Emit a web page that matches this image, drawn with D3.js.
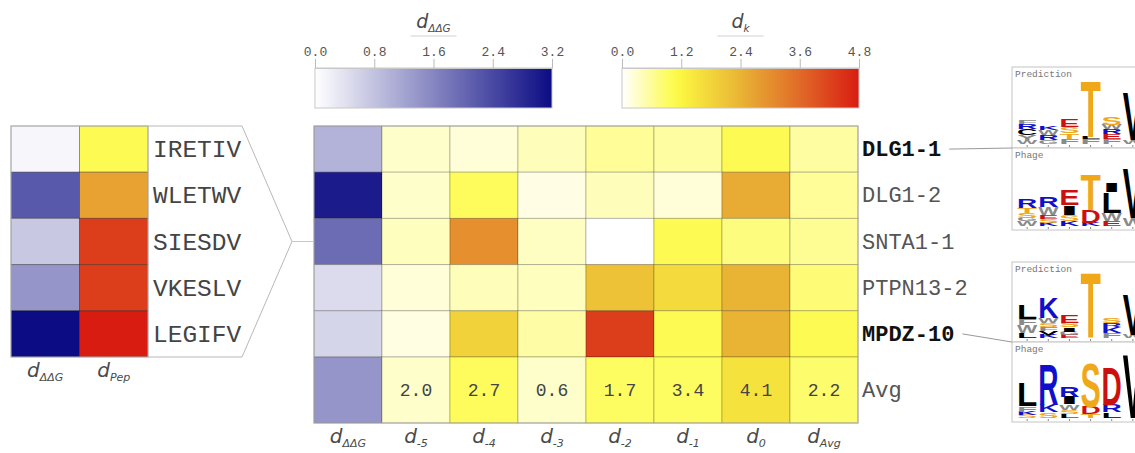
<!DOCTYPE html>
<html>
<head>
<meta charset="utf-8">
<script src="https://cdn.jsdelivr.net/npm/d3@7"></script>
<style>
  body { margin: 0; background: #fff; }
  svg { display: block; }
  .dlab { font-family: "DejaVu Sans", sans-serif; font-style: italic; fill: #4a4a4a; }
</style>
</head>
<body>
<svg id="chart" width="1135" height="453"></svg>
<script>
// ---- data ----
var rowNames = ['DLG1-1', 'DLG1-2', 'SNTA1-1', 'PTPN13-2', 'MPDZ-10'];
var boldRows = ['DLG1-1', 'MPDZ-10'];
var colKeys = ['ΔΔG', '-5', '-4', '-3', '-2', '-1', '0', 'Avg'];
var ddgMain = [1.0, 3.0, 1.93, 0.48, 0.55];
var ddgAvg = 1.4;
var dkMain = [
  [0.30, 0.22, 0.40, 0.60, 0.55, 1.00, 0.55],
  [0.30, 0.95, 0.15, 0.40, 0.22, 2.55, 0.60],
  [0.38, 3.00, 0.35, 0.00, 1.00, 0.75, 0.62],
  [0.22, 0.40, 0.38, 2.15, 1.70, 2.40, 0.80],
  [0.17, 1.85, 0.52, 4.30, 1.00, 2.40, 1.00]
];
var dkAvgShade = [0.30, 0.95, 0.30, 0.92, 0.92, 1.55, 0.85];
var avgLabels = ['2.0', '2.7', '0.6', '1.7', '3.4', '4.1', '2.2'];

var peptides = ['IRETIV', 'WLETWV', 'SIESDV', 'VKESLV', 'LEGIFV'];
var pepDdg = [0.1, 2.18, 0.73, 1.4, 3.2];
var pepDpep = [1.0, 2.7, 4.3, 4.3, 4.8];

var ddgTicks = [0, 0.8, 1.6, 2.4, 3.2];
var dkTicks = [0, 1.2, 2.4, 3.6, 4.8];

// sequence logos: stacks bottom -> top, [letter, bits]
var logoDLG1Pred = [
  [['W', 0.25], ['Y', 0.3], ['C', 0.4], ['R', 0.3], ['F', 0.25]],
  [['G', 0.25], ['R', 0.3], ['W', 0.3], ['K', 0.2]],
  [['F', 0.3], ['T', 0.35], ['S', 0.4], ['E', 0.5]],
  [['F', 0.3], ['L', 0.15], ['T', 3.5]],
  [['F', 0.3], ['E', 0.3], ['R', 0.3], ['W', 0.3], ['S', 0.45]],
  [['W', 0.25], ['V', 3.0]]
];
var logoDLG1Phage = [
  [['W', 0.3], ['G', 0.2], ['S', 0.3], ['T', 0.3], ['R', 0.6]],
  [['K', 0.2], ['S', 0.25], ['E', 0.2], ['W', 0.5], ['R', 0.65]],
  [['K', 0.3], ['S', 0.4], ['I', 0.6], ['E', 1.0]],
  [['K', 0.2], ['D', 0.8], ['T', 2.2]],
  [['E', 0.3], ['W', 0.5], ['L', 1.3], ['I', 0.6]],
  [['W', 0.5], ['V', 3.1]]
];
var logoMPDZPred = [
  [['L', 0.3], ['W', 0.5], ['F', 0.4], ['L', 0.9]],
  [['K', 0.2], ['V', 0.25], ['F', 0.25], ['S', 0.25], ['W', 0.3], ['K', 1.3]],
  [['E', 0.2], ['G', 0.2], ['I', 0.25], ['S', 0.3], ['E', 0.5]],
  [['T', 4.1]],
  [['F', 0.3], ['K', 0.4], ['R', 0.25], ['S', 0.35]],
  [['W', 0.2], ['V', 2.5]]
];
var logoMPDZPhage = [
  [['S', 0.2], ['K', 0.2], ['F', 0.35], ['L', 1.5]],
  [['S', 0.35], ['K', 0.45], ['R', 2.5]],
  [['L', 0.25], ['S', 0.25], ['W', 0.35], ['I', 0.45], ['R', 0.65]],
  [['T', 0.25], ['D', 0.45], ['S', 2.75]],
  [['L', 0.35], ['R', 0.45], ['D', 2.4]],
  [['V', 4.0]]
];

// ---- scales ----
var ddgColor = d3.scaleLinear().domain([0, 3.2]).range(['#ffffff', '#0c0c84']).clamp(true);
var dkColor = d3.scaleLinear()
    .domain([0, 1.1, 2.4, 3.6, 4.8])
    .range(['#ffffff', '#fdfb42', '#e9b434', '#e06a28', '#d91c12'])
    .clamp(true);

var svg = d3.select('#chart');
var defs = svg.append('defs');

var monoFont = '"Liberation Mono", monospace';

function dLabel(sel, sub, size) {
  sel.append('tspan').text('d').style('font-size', size + 'px');
  sel.append('tspan').text(sub).attr('dy', size * 0.22).style('font-size', (size * 0.55) + 'px');
}

//
// colour bars
//
function colorBar(id, scale, ticks, x0, x1, sub) {
  var x = d3.scaleLinear().domain([ticks[0], ticks[ticks.length - 1]]).range([x0, x1]);
  var grad = defs.append('linearGradient').attr('id', id);
  d3.range(0, 1.0001, 0.05).forEach(function(t) {
    grad.append('stop')
        .attr('offset', (t * 100) + '%')
        .attr('stop-color', scale(x.invert(x0 + t * (x1 - x0))));
  });

  svg.append('rect')
      .attr('x', x0).attr('y', 68)
      .attr('width', x1 - x0).attr('height', 40)
      .attr('fill', 'url(#' + id + ')')
      .attr('stroke', '#c8c8c8');

  var ax = svg.append('g')
      .attr('transform', 'translate(0,68)')
      .call(d3.axisTop(x).tickValues(ticks).tickSize(9).tickSizeOuter(0).tickPadding(3)
                .tickFormat(d3.format('.1f')));
  ax.select('.domain').attr('stroke', '#c8c8c8');
  ax.selectAll('.tick line').attr('stroke', '#bbb');
  ax.selectAll('.tick text')
      .style('font-family', monoFont).style('font-size', '13px').attr('fill', '#555');

  var cx = (x0 + x1) / 2;
  svg.append('line')
      .attr('x1', cx - 23).attr('x2', cx + 23)
      .attr('y1', 36).attr('y2', 36)
      .attr('stroke', '#d0d0d0');
  svg.append('text')
      .attr('class', 'dlab')
      .attr('x', cx).attr('y', 28)
      .attr('text-anchor', 'middle')
      .call(dLabel, sub, 19);
}

colorBar('ddgGrad', ddgColor, ddgTicks, 315, 552, 'ΔΔG');
colorBar('dkGrad', dkColor, dkTicks, 622, 859, 'k');

//
// main heatmap
//
var x = d3.scaleBand().domain(colKeys).range([314, 858]);
var y = d3.scaleBand().domain(rowNames).range([126, 357]);
var avgTop = 357, avgBottom = 423;

var cells = [];
rowNames.forEach(function(r, i) {
  cells.push({col: colKeys[0], row: r, fill: ddgColor(ddgMain[i])});
  dkMain[i].forEach(function(v, j) {
    cells.push({col: colKeys[j + 1], row: r, fill: dkColor(v)});
  });
});

var main = svg.append('g');
main.selectAll('.cell')
    .data(cells)
    .enter()
    .append('rect')
    .attr('class', 'cell')
    .attr('x', function(d) { return x(d.col); })
    .attr('y', function(d) { return y(d.row); })
    .attr('width', x.bandwidth())
    .attr('height', y.bandwidth())
    .attr('fill', function(d) { return d.fill; })
    .attr('stroke', 'rgba(0,0,0,0.22)');

var avgCells = [{col: colKeys[0], fill: ddgColor(ddgAvg), label: ''}].concat(
    dkAvgShade.map(function(v, j) {
      return {col: colKeys[j + 1], fill: dkColor(v), label: avgLabels[j]};
    }));

main.selectAll('.avg')
    .data(avgCells)
    .enter()
    .append('rect')
    .attr('class', 'avg')
    .attr('x', function(d) { return x(d.col); })
    .attr('y', avgTop)
    .attr('width', x.bandwidth())
    .attr('height', avgBottom - avgTop)
    .attr('fill', function(d) { return d.fill; })
    .attr('stroke', 'rgba(0,0,0,0.22)');

main.selectAll('.avglabel')
    .data(avgCells.filter(function(d) { return d.label; }))
    .enter()
    .append('text')
    .attr('class', 'avglabel')
    .attr('x', function(d) { return x(d.col) + x.bandwidth() / 2; })
    .attr('y', 396)
    .attr('text-anchor', 'middle')
    .style('font-family', monoFont).style('font-size', '18px')
    .attr('fill', '#444')
    .text(function(d) { return d.label; });

main.append('rect')
    .attr('x', 314).attr('y', 126)
    .attr('width', 544).attr('height', avgBottom - 126)
    .attr('fill', 'none')
    .attr('stroke', '#a8a8a8');

// row labels
var rowLabels = main.selectAll('.rowlabel')
    .data(rowNames)
    .enter()
    .append('text')
    .attr('class', 'rowlabel')
    .attr('x', 862)
    .attr('y', function(d) { return y(d) + y.bandwidth() / 2 + 7; })
    .style('font-family', monoFont).style('font-size', '22px')
    .style('font-weight', function(d) { return boldRows.indexOf(d) >= 0 ? 'bold' : 'normal'; })
    .attr('fill', function(d) { return boldRows.indexOf(d) >= 0 ? '#111' : '#555'; })
    .text(function(d) { return d; });

main.append('text')
    .attr('x', 862).attr('y', 397)
    .style('font-family', monoFont).style('font-size', '22px')
    .attr('fill', '#555')
    .text('Avg');

// column labels
main.selectAll('.collabel')
    .data(colKeys)
    .enter()
    .append('text')
    .attr('class', 'dlab collabel')
    .attr('x', function(d) { return x(d) + x.bandwidth() / 2; })
    .attr('y', 443)
    .attr('text-anchor', 'middle')
    .each(function(d) { d3.select(this).call(dLabel, d, 20); });

//
// left panel: peptides
//
var lx = d3.scaleBand().domain(['ddg', 'pep']).range([11, 148]);
var left = svg.append('g');

var leftCells = [];
peptides.forEach(function(p, i) {
  leftCells.push({col: 'ddg', row: rowNames[i], fill: ddgColor(pepDdg[i])});
  leftCells.push({col: 'pep', row: rowNames[i], fill: dkColor(pepDpep[i])});
});

left.selectAll('.lcell')
    .data(leftCells)
    .enter()
    .append('rect')
    .attr('class', 'lcell')
    .attr('x', function(d) { return lx(d.col); })
    .attr('y', function(d) { return y(d.row); })
    .attr('width', lx.bandwidth())
    .attr('height', y.bandwidth())
    .attr('fill', function(d) { return d.fill; })
    .attr('stroke', 'rgba(0,0,0,0.3)');

var tipX = 292, tipY = (126 + 357) / 2;
left.append('path')
    .attr('d', 'M148,126H242L' + tipX + ',' + tipY + 'L242,357H148')
    .attr('fill', 'none')
    .attr('stroke', '#b8b8b8');
left.append('line')
    .attr('x1', tipX).attr('x2', 314)
    .attr('y1', tipY).attr('y2', tipY)
    .attr('stroke', '#c8c8c8');
left.append('rect')
    .attr('x', 11).attr('y', 126)
    .attr('width', 137).attr('height', 231)
    .attr('fill', 'none')
    .attr('stroke', '#b8b8b8');

left.selectAll('.pep')
    .data(peptides)
    .enter()
    .append('text')
    .attr('class', 'pep')
    .attr('x', 153)
    .attr('y', function(d, i) { return y(rowNames[i]) + y.bandwidth() / 2 + 8; })
    .style('font-family', monoFont).style('font-size', '24.5px')
    .attr('fill', '#444')
    .text(function(d) { return d; });

left.selectAll('.lcol')
    .data([['ddg', 'ΔΔG'], ['pep', 'Pep']])
    .enter()
    .append('text')
    .attr('class', 'dlab lcol')
    .attr('x', function(d) { return lx(d[0]) + lx.bandwidth() / 2; })
    .attr('y', 377)
    .attr('text-anchor', 'middle')
    .each(function(d) { d3.select(this).call(dLabel, d[1], 20); });

//
// sequence logos
//
var aaColor = function(ch) {
  if ('RKH'.indexOf(ch) >= 0) return '#1010cc';
  if ('ED'.indexOf(ch) >= 0) return '#cc1010';
  if ('STNQ'.indexOf(ch) >= 0) return '#efa81a';
  if ('WFYG'.indexOf(ch) >= 0) return '#8a8a8a';
  return '#000';
};
var logoX = d3.scaleBand().domain(d3.range(6)).range([1017, 1143]).paddingInner(0.04);
var bits = d3.scaleLinear().domain([0, 4.32]).range([0, 70]);

function drawLogo(top, height, title, stacks) {
  var g = svg.append('g');
  g.append('rect')
      .attr('x', 1012).attr('y', top)
      .attr('width', 140).attr('height', height)
      .attr('fill', '#fff')
      .attr('stroke', '#c4c4c4');
  g.append('text')
      .attr('x', 1015).attr('y', top + 10)
      .style('font-family', monoFont).style('font-size', '9.5px')
      .attr('fill', '#777')
      .text(title);
  var base = top + height - 4;
  stacks.forEach(function(stack, i) {
    var yb = base;
    stack.forEach(function(s) {
      var h = bits(s[1]);
      var t = g.append('text')
          .text(s[0])
          .attr('font-size', 100)
          .style('font-family', '"Liberation Sans", Arial, sans-serif')
          .style('font-weight', 'bold')
          .attr('fill', aaColor(s[0]));
      var adv = t.node().getComputedTextLength();
      t.attr('transform', 'translate(' + logoX(i) + ',' + yb + ') scale(' +
             (logoX.bandwidth() / adv) + ',' + (h / 71.6) + ')');
      yb -= h;
    });
    g.append('line')
        .attr('x1', logoX(i) + logoX.bandwidth() / 2).attr('x2', logoX(i) + logoX.bandwidth() / 2)
        .attr('y1', base + 1).attr('y2', base + 3)
        .attr('stroke', '#888');
  });
  return g;
}

drawLogo(67, 81, 'Prediction', logoDLG1Pred);
drawLogo(148, 82, 'Phage', logoDLG1Phage);
drawLogo(262, 80, 'Prediction', logoMPDZPred);
drawLogo(342, 80, 'Phage', logoMPDZPhage);

// connectors from bold labels to logos
var joins = {'DLG1-1': 148, 'MPDZ-10': 342};
rowLabels.filter(function(d) { return boldRows.indexOf(d) >= 0; })
    .each(function(d) {
      var w = this.getComputedTextLength();
      svg.append('line')
          .attr('x1', 862 + w + 8).attr('y1', y(d) + y.bandwidth() / 2)
          .attr('x2', 1012).attr('y2', joins[d])
          .attr('stroke', '#999');
    });
</script>
</body>
</html>
